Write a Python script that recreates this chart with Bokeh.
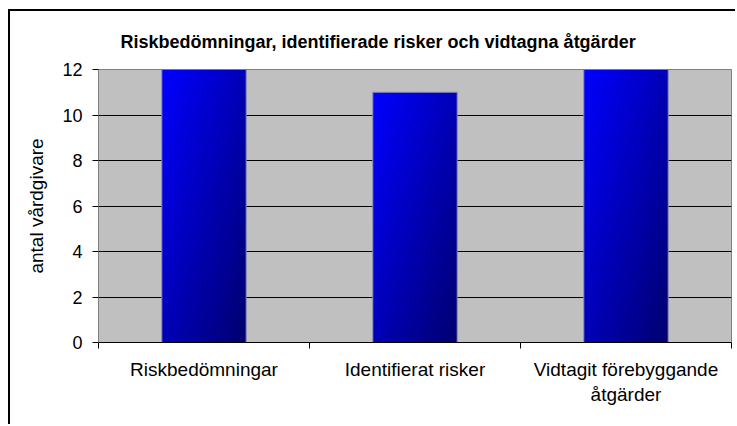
import numpy as np
from bokeh.plotting import figure
from bokeh.models import FixedTicker, Range1d, Title
from bokeh.embed import file_html
from bokeh.resources import INLINE

categories = ["Riskbedömningar", "Identifierat risker", "Vidtagit förebyggande\nåtgärder"]
values = [12, 11, 12]
y_ticks = [0, 2, 4, 6, 8, 10, 12]
title_text = "Riskbedömningar, identifierade risker och vidtagna åtgärder"
y_label = "antal vårdgivare"

FONT = "Liberation Sans"
BAR_W = 0.4

p = figure(width=727, height=415, output_backend="svg", toolbar_location=None,
           x_range=Range1d(0, len(categories)), y_range=Range1d(0, 12),
           min_border_left=88, min_border_right=6, min_border_top=0, min_border_bottom=84,
           background_fill_color="#C0C0C0", border_fill_color="white",
           styles={"margin-top": "9px", "margin-left": "8px",
                   "border-top": "2px solid black", "border-left": "2px solid black"})

t = Title(text=title_text, align="left", offset=22, text_font=FONT,
          text_font_size="18px", text_font_style="bold", text_color="black",
          standoff=36, padding=0)
p.add_layout(t, "above")

p.outline_line_color = "#808080"
p.outline_line_width = 1

# gradient bars via images
centers = [i + 0.5 for i in range(len(categories))]
H, W = 120, 40
u = np.linspace(0, 1, W)[None, :]
v_top = np.linspace(1, 0, H)[:, None]
tt = (u + v_top) / 2.0
c0 = 255
c1 = 112
imgs = []
for val in values:
    b = (c0 + (c1 - c0) * tt).astype(np.uint32)
    rgba = (255 << 24) | (b << 16)
    imgs.append(rgba.astype(np.uint32))

p.image_rgba(image=imgs, x=[c - BAR_W / 2 for c in centers], y=[0] * len(values),
             dw=[BAR_W] * len(values), dh=values)
p.vbar(x=centers, top=values, width=BAR_W, fill_alpha=0, line_color="#8C8CB8", line_width=1)

# grid
p.xgrid.visible = False
p.ygrid.ticker = FixedTicker(ticks=y_ticks)
p.ygrid.grid_line_color = "black"
p.ygrid.grid_line_width = 1
p.ygrid.level = "underlay"

# y axis
p.yaxis.ticker = FixedTicker(ticks=y_ticks)
p.yaxis.axis_label = y_label
p.yaxis.axis_label_text_font = FONT
p.yaxis.axis_label_text_font_size = "19px"
p.yaxis.axis_label_text_font_style = "normal"
p.yaxis.axis_label_text_color = "black"
p.yaxis.axis_label_standoff = 12
p.yaxis.major_label_text_font = FONT
p.yaxis.major_label_text_font_size = "18px"
p.yaxis.major_label_text_color = "black"
p.yaxis.major_label_standoff = 10
p.yaxis.major_tick_out = 6
p.yaxis.major_tick_in = 0
p.yaxis.minor_tick_line_color = None
p.yaxis.axis_line_color = "#808080"
p.yaxis.major_tick_line_color = "black"

# x axis: labels at centers, ticks at boundaries (minor)
p.xaxis.ticker = FixedTicker(ticks=centers, minor_ticks=list(range(len(categories) + 1)))
p.xaxis.major_label_overrides = {c: lab for c, lab in zip(centers, categories)}
p.xaxis.major_label_text_font = FONT
p.xaxis.major_label_text_font_size = "19px"
p.xaxis.major_label_text_color = "black"
p.xaxis.major_label_standoff = 10
p.xaxis.major_tick_line_color = None
p.xaxis.major_tick_out = 6
p.xaxis.major_tick_in = 0
p.xaxis.minor_tick_out = 6
p.xaxis.minor_tick_in = 0
p.xaxis.minor_tick_line_color = "black"
p.xaxis.axis_line_color = "black"

open("out.html", "w").write(file_html(p, INLINE))
